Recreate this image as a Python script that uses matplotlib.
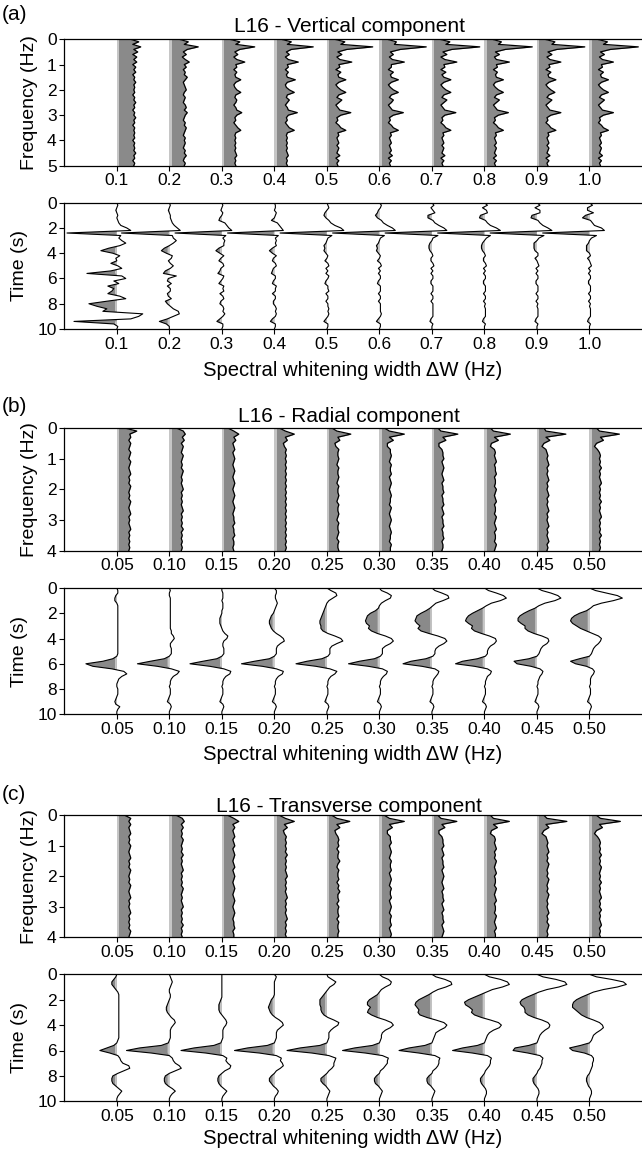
import numpy as np
import matplotlib
matplotlib.use("Agg")
import matplotlib.pyplot as plt

plt.rcParams['font.family'] = ['Liberation Sans', 'DejaVu Sans']

# ---------------- categories / ticks ----------------
widths_a = [0.1, 0.2, 0.3, 0.4, 0.5, 0.6, 0.7, 0.8, 0.9, 1.0]
labels_a = ['0.1', '0.2', '0.3', '0.4', '0.5', '0.6', '0.7', '0.8', '0.9', '1.0']
widths_bc = [0.05, 0.10, 0.15, 0.20, 0.25, 0.30, 0.35, 0.40, 0.45, 0.50]
labels_bc = ['0.05', '0.10', '0.15', '0.20', '0.25', '0.30', '0.35', '0.40', '0.45', '0.50']

freq_a = np.linspace(0, 5, 51)      # Hz
freq_bc = np.linspace(0, 4, 41)     # Hz
time_s = np.linspace(0, 10, 51)     # s

# ---------------- (a) vertical: amplitude spectra ----------------
spec_a_01 = [14,22,16,24,17,21,16,20,17,20, 16,19,17,19,16,18,17,19,17,18, 17,18,16,18,17,19,17,18,16,18,
             17,19,17,18,16,18,17,18,17,18, 16,18,17,18,17,19,17,18,16,18, 17]
spec_a_02 = [10,19,15,29,18,14,17,13,16,20, 15,17,14,16,15,18,16,14,15,16, 17,15,14,16,15,14,16,17,15,18,
             16,15,14,16,15,17,16,15,14,16, 15,16,15,14,16,15,17,15,14,16, 15]
spec_a_03 = [8,18,14,33,18,13,16,12,15,23, 14,15,12,15,13,14,19,14,12,13, 15,19,14,13,15,14,12,14,15,20,
             15,13,14,12,14,16,19,14,13,14, 13,14,13,14,13,14,15,13,14,13, 14]
spec_a_04 = [7,17,13,39,17,12,15,11,14,24, 13,14,11,14,12,13,21,13,11,12, 15,20,13,12,15,13,11,13,14,23,
             14,12,13,11,13,15,20,13,12,13, 12,13,12,13,12,13,14,12,13,12, 13]
spec_a_05 = [8,18,14,46,20,11,15,10,13,25, 12,13,9,14,11,12,19,12,9,11, 14,19,12,10,15,12,9,11,13,24,
             14,10,11,9,12,14,19,11,12,10, 11,12,10,12,11,10,13,9,12,10, 11]
spec_a_06 = [8,17,15,47,21,11,14,10,13,25, 12,12,9,14,11,12,19,12,9,11, 14,19,12,10,14,12,9,11,13,24,
             14,10,11,9,12,14,19,11,12,10, 11,12,10,11,12,10,13,9,12,10, 11]
spec_a_07 = [8,18,14,48,20,11,15,9,13,25, 12,13,9,14,10,12,19,12,9,11, 14,19,12,10,15,12,9,11,13,24,
             13,10,11,9,12,14,19,11,12,10, 11,12,10,12,11,10,13,9,12,10, 11]
spec_a_08 = [8,17,14,48,21,11,15,10,12,25, 12,13,9,13,11,12,19,11,9,11, 14,19,12,10,15,12,9,11,13,24,
             14,10,11,9,12,14,19,11,12,10, 11,12,10,12,11,10,12,9,12,10, 11]
spec_a_09 = [8,18,15,48,20,11,15,10,13,24, 12,13,9,14,11,12,19,12,9,11, 14,18,12,10,15,12,9,11,13,24,
             14,10,11,9,12,14,19,11,12,10, 11,12,10,12,11,10,13,9,12,10, 11]
spec_a_10 = [8,18,14,49,21,11,15,10,13,24, 12,13,9,14,11,12,19,12,9,11, 14,19,12,10,15,12,9,11,13,24,
             14,10,11,9,12,14,19,11,12,10, 11,12,10,12,11,10,13,9,12,10, 11]

# ---------------- (a) vertical: time-domain traces ----------------
time_a_01 = [0,1,0,-1,0,1,0,1,2,4, 10,14,-50,4,2,5,9,3,-8,-16, -4,3,-1,0,-6,1,5,-6,-30,5,
             9,-3,2,-9,-3,-5,-9,3,9,-10, -28,-20,-10,-14,26,22,14,-43,-3,1, 0]
time_a_02 = [0,1,0,-1,0,1,1,2,3,5, 8,11,-48,3,4,7,4,0,-5,-8, -3,3,2,-1,1,4,1,-4,-6,7,
             -1,-2,2,-2,1,1,-2,-1,2,-4, -2,1,4,9,10,4,-2,-10,-3,0, 0]
time_a_03 = [0,1,0,-1,1,0,-2,-3,3,5, 7,10,-47,4,1,3,2,2,-3,-6, -2,2,-1,-3,1,2,-1,-2,-4,2,
             1,-1,-3,2,1,2,-2,1,2,-1, -2,1,2,1,3,1,-2,-5,1,1, 0]
time_a_04 = [0,1,1,0,2,1,0,-3,3,5, 7,9,-47,4,1,2,1,2,-2,-5, -2,2,-1,-2,1,2,-1,-2,-3,1,
             1,-1,-2,2,1,1,-2,1,1,-1, -1,1,2,1,2,1,-2,-4,1,1, 0]
time_a_05 = [0,1,2,0,-2,-3,-1,2,4,8, 14,17,-47,5,1,0,-1,-3,-2,-3, -1,1,0,-2,1,2,-1,1,-1,2,
             1,-1,-2,1,1,2,-1,1,1,-1, 1,1,2,1,2,1,-1,-3,1,1, 0]
time_a_06 = [0,2,1,-1,-2,-4,-2,2,4,8, 13,16,-47,5,1,0,-1,-3,-2,-3, -1,1,0,-2,1,2,-1,1,-1,1,
             1,-1,-2,1,1,1,-1,1,1,-1, 1,1,1,1,2,1,-1,-3,1,1, 0]
time_a_07 = [0,2,-1,1,3,-4,-4,1,3,7, 12,15,-47,6,1,0,-2,-3,-3,-2, 0,1,-1,-1,1,2,-1,1,-1,1,
             1,-1,-1,1,1,1,-1,1,1,-1, 1,1,1,1,1,1,-1,-2,1,0, 0]
time_a_08 = [0,3,-2,2,3,-4,-5,1,3,6, 12,16,-47,6,2,0,-2,-3,-3,-2, 0,1,-1,-1,1,2,-1,1,-1,1,
             1,-1,-1,1,1,1,-1,1,1,-1, 1,0,1,1,1,1,-1,-2,1,0, 0]
time_a_09 = [0,3,-2,3,3,-5,-6,1,3,6, 11,15,-47,7,2,0,-3,-3,-3,-2, 1,1,-2,0,1,2,-1,1,-1,1,
             1,-1,-1,1,1,1,-1,1,1,-1, 1,0,1,1,1,1,-1,-2,1,0, 0]
time_a_10 = [0,3,-2,-2,4,-4,-7,1,3,5, 12,15,-47,7,2,0,-1,-3,-3,-3, 0,1,-2,0,1,2,-1,1,-1,1,
             1,-1,-1,1,1,1,-1,1,1,-1, 1,0,1,1,1,1,-1,-2,1,0, 0]

# ---------------- (b) radial: amplitude spectra ----------------
spec_b_005 = [8,20,13,14,12,14,13,12,14,13, 12,14,13,12,13,14,12,13,12,14, 13,12,13,12,14,13,12,13,14,12,
              13,12,13,14,12,13,12,13,12,13, 12]
spec_b_010 = [7,14,16,13,15,12,14,13,12,14, 13,12,13,12,14,13,12,13,12,13, 14,12,13,12,13,12,13,14,12,13,
              12,13,12,14,12,13,12,13,12,13, 12]
spec_b_015 = [6,12,17,12,14,11,12,13,11,12, 13,12,11,12,13,12,11,12,13,12, 11,12,13,12,11,12,13,12,11,12,
              12,13,11,12,12,13,11,12,12,11, 12]
spec_b_020 = [5,11,20,11,13,9,10,12,11,12, 11,12,11,12,11,12,11,12,11,12, 11,12,11,12,11,12,11,12,11,12,
              11,12,11,12,11,12,11,12,11,12, 11]
spec_b_025 = [5,10,24,11,13,8,9,12,11,11, 12,11,10,12,11,11,12,11,10,12, 11,11,12,11,10,12,11,11,12,11,
              10,12,11,11,12,11,10,12,11,11, 12]
spec_b_030 = [5,10,25,10,14,8,8,11,11,12, 11,10,12,11,11,12,10,11,12,11, 10,11,12,11,11,10,12,11,10,11,
              12,11,10,11,12,11,11,10,12,11, 11]
spec_b_035 = [6,9,26,11,14,7,7,10,11,11, 12,10,11,12,11,10,11,12,10,11, 11,12,10,11,11,12,10,11,12,10,
              11,11,12,10,11,11,12,10,11,11, 10]
spec_b_040 = [6,9,26,10,14,7,6,10,11,10, 11,12,10,11,11,12,10,11,11,10, 12,11,10,11,12,10,11,11,10,12,
              11,10,11,12,10,11,11,10,12,11, 10]
spec_b_045 = [7,9,29,9,13,7,5,9,10,11, 10,11,12,10,11,10,11,12,10,11, 10,11,12,10,11,10,11,12,10,11,
              10,11,12,10,11,10,11,12,10,11, 10]
spec_b_050 = [7,10,30,11,14,7,5,8,10,11, 10,11,10,12,10,11,10,11,12,10, 11,10,11,10,12,10,11,10,11,12,
              10,11,10,11,10,12,10,11,10,11, 10]

# ---------------- (b) radial: time-domain traces ----------------
time_b_005 = [0,1,1,-1,-2,-2,0,1,1,1, 1,1,1,1,1,1,1,1,1,1, 1,1,1,1,1,1,1,0,-4,-14,
              -31,-24,-5,7,10,5,2,1,0,0, 1,1,1,0,-1,-2,-1,3,1,0, 0]
time_b_010 = [0,1,0,0,1,1,1,1,1,1, 1,1,1,1,1,1,1,2,2,4, 5,3,1,1,2,2,2,0,-5,-19,
              -32,-12,2,10,8,4,2,1,1,0, 1,1,1,0,-1,-2,1,2,1,0, 0]
time_b_015 = [0,0,1,1,1,0,1,1,1,0, 0,-1,-2,-2,-2,-1,0,1,3,6, 5,2,1,1,2,2,2,0,-5,-19,
              -32,-12,2,9,8,4,2,1,1,0, 1,1,1,0,-1,-2,1,2,1,0, 0]
time_b_020 = [0,2,2,1,1,2,3,2,1,0, -1,-3,-4,-5,-5,-4,-3,-1,2,6, 9,10,6,3,2,2,2,0,-5,-20,
              -33,-12,2,9,8,4,2,1,1,0, 1,1,1,0,-1,-2,1,2,1,0, 0]
time_b_025 = [0,4,9,10,6,2,0,-1,-2,-3, -4,-5,-6,-7,-7,-6,-6,-4,1,8, 14,16,10,5,3,3,3,1,-5,-20,
              -31,-11,3,10,8,4,2,1,1,0, 1,1,1,0,-1,-2,1,2,1,0, 0]
time_b_030 = [0,2,8,12,11,6,2,0,-1,-4, -9,-12,-13,-14,-13,-10,-11,-8,-2,6, 12,14,11,6,3,3,3,1,-5,-20,
              -31,-11,3,8,7,4,2,1,1,0, 1,1,1,0,-1,-2,1,2,1,0, 0]
time_b_035 = [0,3,10,16,17,11,4,1,-2,-6, -11,-15,-16,-17,-15,-12,-14,-11,-3,6, 13,15,12,7,4,3,3,1,-6,-21,
              -29,-10,3,7,6,4,2,1,1,0, 1,1,1,0,-1,-2,1,2,1,0, 0]
time_b_040 = [0,4,12,19,22,16,7,2,-2,-7, -12,-16,-18,-19,-16,-12,-13,-10,-3,5, 11,12,10,6,4,3,3,1,-7,-22,
              -29,-10,3,7,6,3,2,1,1,0, 1,1,1,0,-1,-2,1,2,1,0, 0]
time_b_045 = [0,5,14,21,24,18,8,2,-2,-8, -13,-17,-19,-19,-16,-12,-12,-9,-3,5, 11,12,10,6,4,3,2,0,-8,-23,
              -20,-6,3,6,5,3,2,1,1,0, 1,1,1,0,-1,-2,1,2,1,0, 0]
time_b_050 = [0,6,17,28,33,24,12,4,1,-3, -10,-15,-18,-19,-17,-13,-9,-3,3,9, 12,11,9,6,4,3,2,0,-10,-19,
              -14,-3,3,5,4,2,1,1,1,0, 1,1,1,0,-1,-2,1,2,1,0, 0]

# ---------------- (c) transverse: amplitude spectra ----------------
spec_c_005 = [8,14,12,14,12,13,14,12,13,12, 14,13,12,13,14,12,13,12,14,13, 12,13,12,14,13,12,13,14,12,13,
              12,13,14,12,13,12,13,12,14,13, 12]
spec_c_010 = [7,13,15,12,14,12,13,12,14,13, 12,13,12,14,12,13,12,13,14,12, 13,12,13,12,14,13,12,13,12,13,
              14,12,13,12,13,12,14,12,13,12, 13]
spec_c_015 = [6,12,17,11,13,11,12,13,11,12, 13,11,12,13,12,11,12,13,11,12, 13,12,11,12,13,12,11,12,13,12,
              11,12,13,12,11,12,12,13,11,12, 12]
spec_c_020 = [5,11,20,10,13,9,10,12,11,12, 11,12,11,13,11,12,11,12,11,12, 13,11,12,11,12,11,12,13,11,12,
              11,12,11,12,13,11,12,11,12,11, 12]
spec_c_025 = [5,10,23,10,13,8,9,11,12,11, 12,10,12,11,11,13,11,10,12,11, 11,12,10,12,11,13,11,11,12,10,
              12,11,11,12,10,12,11,11,12,11, 11]
spec_c_030 = [5,10,25,10,13,8,8,11,11,12, 10,11,12,11,10,12,11,11,12,10, 11,12,11,10,12,11,11,12,10,11,
              12,11,10,12,11,11,12,10,11,12, 11]
spec_c_035 = [6,9,25,10,13,7,7,10,11,11, 12,10,11,12,10,11,11,12,10,11, 12,11,10,11,12,10,11,11,12,10,
              11,12,10,11,11,12,10,11,12,11, 10]
spec_c_040 = [6,9,25,9,13,7,6,10,11,10, 11,12,10,11,10,12,11,10,11,12, 10,11,11,10,12,11,10,11,12,10,
              11,11,10,12,11,10,11,12,10,11, 11]
spec_c_045 = [7,10,30,9,12,7,5,9,10,11, 10,11,12,10,11,10,12,11,10,11, 10,12,11,10,11,10,12,11,10,11,
              10,11,12,10,11,10,12,11,10,11, 10]
spec_c_050 = [7,11,31,10,13,7,5,8,10,11, 10,11,10,12,10,11,10,12,11,10, 11,10,12,10,11,10,11,12,10,11,
              10,12,10,11,10,11,12,10,11,10, 11]

# ---------------- (c) transverse: time-domain traces ----------------
time_c_005 = [0,-1,-3,-5,-5,-3,-1,1,2,2, 2,2,2,2,2,2,2,2,2,2, 2,2,2,2,2,2,1,0,-3,-10,
              -17,-7,1,3,4,6,12,13,7,1, -4,-5,-5,-4,-1,2,5,3,1,0, 0]
time_c_010 = [0,1,2,3,2,1,0,0,1,1, 0,-1,-2,-3,-3,-2,0,2,5,6, 4,2,1,1,1,1,0,-1,-8,-30,
              -43,-18,0,3,4,6,10,12,6,0, -4,-5,-5,-4,-1,3,6,3,1,0, 0]
time_c_015 = [0,0,0,0,0,0,0,0,0,0, -1,-2,-3,-3,-3,-2,0,2,4,5, 4,2,1,1,1,1,0,-1,-8,-28,
              -41,-16,1,5,4,6,9,8,3,0, -3,-4,-4,-3,-1,2,5,3,1,0, 0]
time_c_020 = [0,2,1,0,0,0,0,0,0,-1, -3,-4,-5,-6,-5,-4,-2,1,5,8, 9,6,3,2,2,2,1,0,-7,-27,
              -40,-15,2,7,6,8,9,6,2,0, -3,-5,-5,-3,-1,2,4,3,1,0, 0]
time_c_025 = [0,1,5,9,7,3,1,-1,-3,-5, -7,-7,-7,-6,-6,-5,-3,1,7,12, 11,7,4,2,2,2,1,0,-7,-27,
              -40,-15,2,9,8,7,7,5,2,0, -3,-6,-6,-4,-1,1,3,2,1,0, 0]
time_c_030 = [0,3,9,12,11,6,2,0,-2,-6, -10,-12,-12,-9,-11,-12,-8,-2,6,12, 14,11,6,3,2,2,1,0,-7,-25,
              -37,-14,3,9,8,8,6,4,1,0, -3,-5,-5,-4,-1,1,3,2,1,0, 0]
time_c_035 = [0,4,13,19,20,14,6,1,-3,-8, -13,-16,-17,-15,-13,-14,-12,-5,4,12, 15,13,8,4,3,2,1,0,-7,-23,
              -33,-13,3,8,7,7,6,4,1,0, -3,-5,-5,-4,-1,1,3,2,1,0, 0]
time_c_040 = [0,5,16,23,25,18,8,2,-4,-10, -16,-20,-19,-15,-12,-13,-10,-3,6,14, 17,15,9,5,3,2,1,0,-7,-22,
              -32,-12,3,7,6,6,5,3,1,0, -2,-4,-4,-3,-1,1,2,2,1,0, 0]
time_c_045 = [0,6,19,28,30,22,10,2,-4,-10, -15,-17,-16,-13,-12,-12,-9,-3,5,11, 13,12,8,5,3,2,1,0,-8,-22,
              -24,-9,3,6,5,5,4,3,1,0, -2,-4,-4,-3,-1,1,2,2,1,0, 0]
time_c_050 = [0,7,22,34,37,28,14,4,-2,-8, -13,-16,-17,-17,-14,-11,-8,-3,4,10, 13,14,11,7,4,3,2,0,-9,-20,
              -17,-5,2,4,4,3,3,2,1,0, -2,-3,-3,-2,-1,1,2,2,1,0, 0]

spec_a = [spec_a_01, spec_a_02, spec_a_03, spec_a_04, spec_a_05, spec_a_06, spec_a_07, spec_a_08, spec_a_09, spec_a_10]
time_a = [time_a_01, time_a_02, time_a_03, time_a_04, time_a_05, time_a_06, time_a_07, time_a_08, time_a_09, time_a_10]
spec_b = [spec_b_005, spec_b_010, spec_b_015, spec_b_020, spec_b_025, spec_b_030, spec_b_035, spec_b_040, spec_b_045, spec_b_050]
time_b = [time_b_005, time_b_010, time_b_015, time_b_020, time_b_025, time_b_030, time_b_035, time_b_040, time_b_045, time_b_050]
spec_c = [spec_c_005, spec_c_010, spec_c_015, spec_c_020, spec_c_025, spec_c_030, spec_c_035, spec_c_040, spec_c_045, spec_c_050]
time_c = [time_c_005, time_c_010, time_c_015, time_c_020, time_c_025, time_c_030, time_c_035, time_c_040, time_c_045, time_c_050]

# wiggle gains (x-axis units per amplitude unit)
GAIN_A = 0.1 / 52.7
GAIN_BC = 0.05 / 52.7

FILL = '#8a8a8a'
EDGE = '#c6c6c6'
TICK_FS = 12.5
YLABEL_FS = 14
TITLE_FS = 15
XLABEL_FS = 14.6

fig = plt.figure(figsize=(6.42, 11.52), dpi=100)
W = 642.0
H = 1152.0
L = 64.3


def add_axes(top, bottom):
    return fig.add_axes([L / W, 1 - bottom / H, 1 - L / W, (bottom - top) / H])


def style(ax, xmax, ymax, widths, labels, yticks):
    ax.set_xlim(0, xmax)
    ax.set_ylim(ymax, 0)
    ax.set_xticks(widths)
    ax.set_xticklabels(labels)
    ax.set_yticks(yticks)
    ax.spines['right'].set_visible(False)
    for s in ['left', 'top', 'bottom']:
        ax.spines[s].set_linewidth(0.9)
    ax.tick_params(direction='out', length=3.5, width=0.8, labelsize=TICK_FS, pad=2)


def spectra(ax, widths, data, freq, gain):
    for w, amp in zip(widths, data):
        x = w + np.asarray(amp, float) * gain
        ax.fill_betweenx(freq, w, x, color=FILL, lw=0, zorder=1)
        ax.fill_betweenx(freq, w, w + 2.2 * gain, color=EDGE, lw=0, zorder=1.5)
        ax.plot(x, freq, color='k', lw=0.9, zorder=2)


def wiggles(ax, widths, data, t, gain):
    for w, amp in zip(widths, data):
        x = w + np.asarray(amp, float) * gain
        ax.fill_betweenx(t, x, w, where=x < w, interpolate=True, color=FILL, lw=0, zorder=1)
        ax.fill_betweenx(t, np.maximum(x, w - 1.8 * gain), w, where=x < w, interpolate=True,
                         color=EDGE, lw=0, zorder=1.5)
        ax.plot(x, t, color='k', lw=0.8, zorder=2)


panels = [
    dict(letter='(a)', title='L16 - Vertical component', spec=spec_a, time=time_a, widths=widths_a,
         labels=labels_a, freq=freq_a, fmax=5, xmax=1.1, gain=GAIN_A,
         fbox=(39.3, 165.7), tbox=(202.7, 329.0), ly=15, ty=26, xly=371),
    dict(letter='(b)', title='L16 - Radial component', spec=spec_b, time=time_b, widths=widths_bc,
         labels=labels_bc, freq=freq_bc, fmax=4, xmax=0.55, gain=GAIN_BC,
         fbox=(428.0, 550.7), tbox=(588.0, 714.3), ly=406, ty=416, xly=755),
    dict(letter='(c)', title='L16 - Transverse component', spec=spec_c, time=time_c, widths=widths_bc,
         labels=labels_bc, freq=freq_bc, fmax=4, xmax=0.55, gain=GAIN_BC,
         fbox=(815.3, 937.3), tbox=(974.3, 1101.3), ly=794, ty=806, xly=1138),
]

for p in panels:
    axf = add_axes(*p['fbox'])
    spectra(axf, p['widths'], p['spec'], p['freq'], p['gain'])
    style(axf, p['xmax'], p['fmax'], p['widths'], p['labels'], list(range(p['fmax'] + 1)))
    axf.set_ylabel('Frequency (Hz)', fontsize=YLABEL_FS)
    axf.yaxis.set_label_coords(-0.045, 0.5)

    axt = add_axes(*p['tbox'])
    wiggles(axt, p['widths'], p['time'], time_s, p['gain'])
    style(axt, p['xmax'], 10, p['widths'], p['labels'], [0, 2, 4, 6, 8, 10])
    axt.set_ylabel('Time (s)', fontsize=YLABEL_FS)
    axt.yaxis.set_label_coords(-0.062, 0.5)

    fig.text(2 / W, 1 - p['ly'] / H, p['letter'], fontsize=TITLE_FS, ha='left', va='center')
    fig.text(349 / W, 1 - p['ty'] / H, p['title'], fontsize=TITLE_FS, ha='center', va='center')
    fig.text(353 / W, 1 - p['xly'] / H, 'Spectral whitening width \u0394W (Hz)', fontsize=XLABEL_FS,
             ha='center', va='center')

fig.savefig('out.png', dpi=100)
